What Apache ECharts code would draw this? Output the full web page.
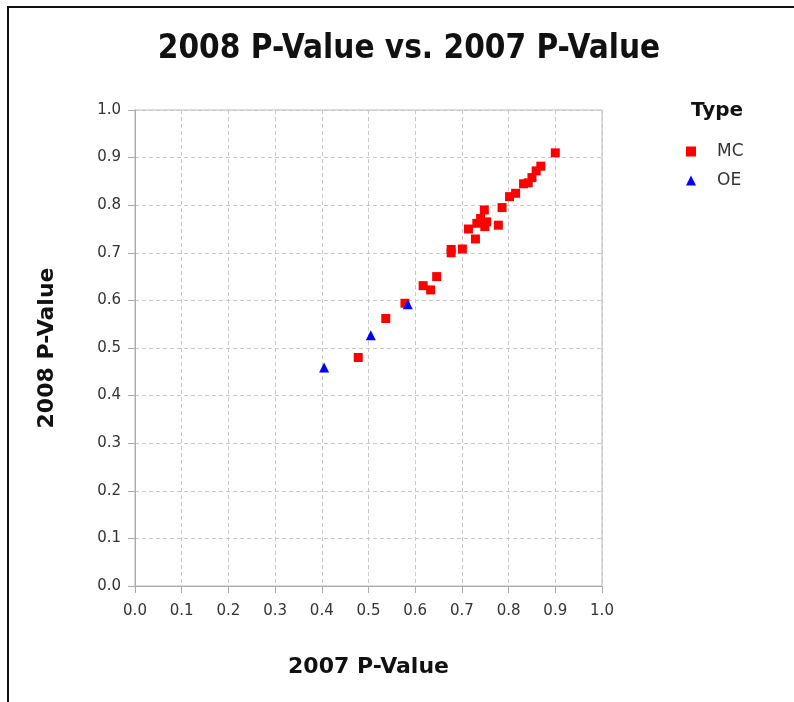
<!DOCTYPE html>
<html>
<head>
    <meta http-equiv="Content-Type" content="text/html; charset=UTF-8">
    <title>2008 P-Value vs. 2007 P-Value</title>
    <script src="https://cdn.jsdelivr.net/npm/echarts@6/dist/echarts.min.js"></script>
    <style>
        body { margin: 0; background: #fff; }
        #frame { position: absolute; left: 7px; top: 6px; width: 787px; height: 696px;
                 border-top: 2px solid #111; border-left: 2px solid #111; box-sizing: border-box; }
        #main { position: absolute; left: 0; top: 0; width: 794px; height: 702px; }
    </style>
</head>
<body>
    <div id="frame"></div>
    <div id="main"></div>

    <script type="text/javascript">
        // 2007 / 2008 p-values per type
        var mcPoints = [
            [0.900, 0.910], [0.869, 0.882], [0.859, 0.872], [0.850, 0.858], [0.842, 0.847],
            [0.832, 0.845], [0.815, 0.825], [0.802, 0.818], [0.786, 0.795], [0.778, 0.758],
            [0.748, 0.790], [0.740, 0.772], [0.753, 0.765], [0.732, 0.762], [0.749, 0.755],
            [0.714, 0.750], [0.729, 0.729], [0.701, 0.708], [0.677, 0.707], [0.677, 0.700],
            [0.646, 0.650], [0.617, 0.631], [0.633, 0.622], [0.578, 0.594], [0.537, 0.562],
            [0.478, 0.480]
        ];
        var oePoints = [
            [0.584, 0.592], [0.505, 0.527], [0.405, 0.459]
        ];
        var typeNames = ['MC', 'OE'];

        var labelFont = '"DejaVu Sans", sans-serif';
        var myChart = echarts.init(document.getElementById('main'));

        myChart.setOption({
            animation: false,
            title: {
                text: '2008 P-Value vs. 2007 P-Value',
                left: 404,
                top: 28,
                textAlign: 'center',
                textStyle: { fontFamily: '"DejaVu Sans Condensed", "DejaVu Sans", sans-serif', fontWeight: 'bold', fontSize: 33, color: '#111' }
            },
            legend: {
                data: typeNames,
                orient: 'vertical',
                left: 681,
                top: 138,
                itemWidth: 10,
                itemHeight: 10,
                itemGap: 12,
                textStyle: { fontFamily: labelFont, fontSize: 17, color: '#333', padding: [0, 0, 0, 16] }
            },
            graphic: [{
                type: 'text',
                left: 691,
                top: 101,
                style: { text: 'Type', font: 'bold 20px ' + labelFont, fill: '#111' }
            }],
            grid: {
                left: 135, right: 192, top: 110, bottom: 116,
                show: true, borderColor: '#bbb', borderWidth: 1
            },
            xAxis: {
                type: 'value',
                min: 0, max: 1, interval: 0.1,
                name: '2007 P-Value',
                nameLocation: 'middle',
                nameGap: 70,
                nameTextStyle: { fontFamily: labelFont, fontWeight: 'bold', fontSize: 22, color: '#111' },
                axisLine: { lineStyle: { color: '#aaa' } },
                axisTick: { show: true, length: 7, lineStyle: { color: '#aaa' } },
                axisLabel: { margin: 18, fontFamily: labelFont, fontSize: 15, color: '#333',
                    formatter: function (v) { return v.toFixed(1); } },
                splitLine: { lineStyle: { color: '#c8c8c8', type: [4, 3] } }
            },
            yAxis: {
                type: 'value',
                min: 0, max: 1, interval: 0.1,
                name: '2008 P-Value',
                nameLocation: 'middle',
                nameGap: 77,
                nameTextStyle: { fontFamily: labelFont, fontWeight: 'bold', fontSize: 22, color: '#111' },
                axisLine: { show: true, lineStyle: { color: '#aaa' } },
                axisTick: { show: true, length: 7, lineStyle: { color: '#aaa' } },
                axisLabel: { margin: 14, fontFamily: labelFont, fontSize: 15, color: '#333',
                    formatter: function (v) { return v.toFixed(1); } },
                splitLine: { lineStyle: { color: '#c8c8c8', type: [4, 3] } }
            },
            series: [{
                name: 'MC',
                type: 'scatter',
                symbol: 'rect',
                symbolSize: 9,
                itemStyle: { color: '#ff0000', opacity: 1 },
                data: mcPoints
            }, {
                name: 'OE',
                type: 'scatter',
                symbol: 'triangle',
                symbolSize: 10,
                itemStyle: { color: '#0000ff', opacity: 1 },
                data: oePoints
            }]
        });
    </script>
</body>
</html>
